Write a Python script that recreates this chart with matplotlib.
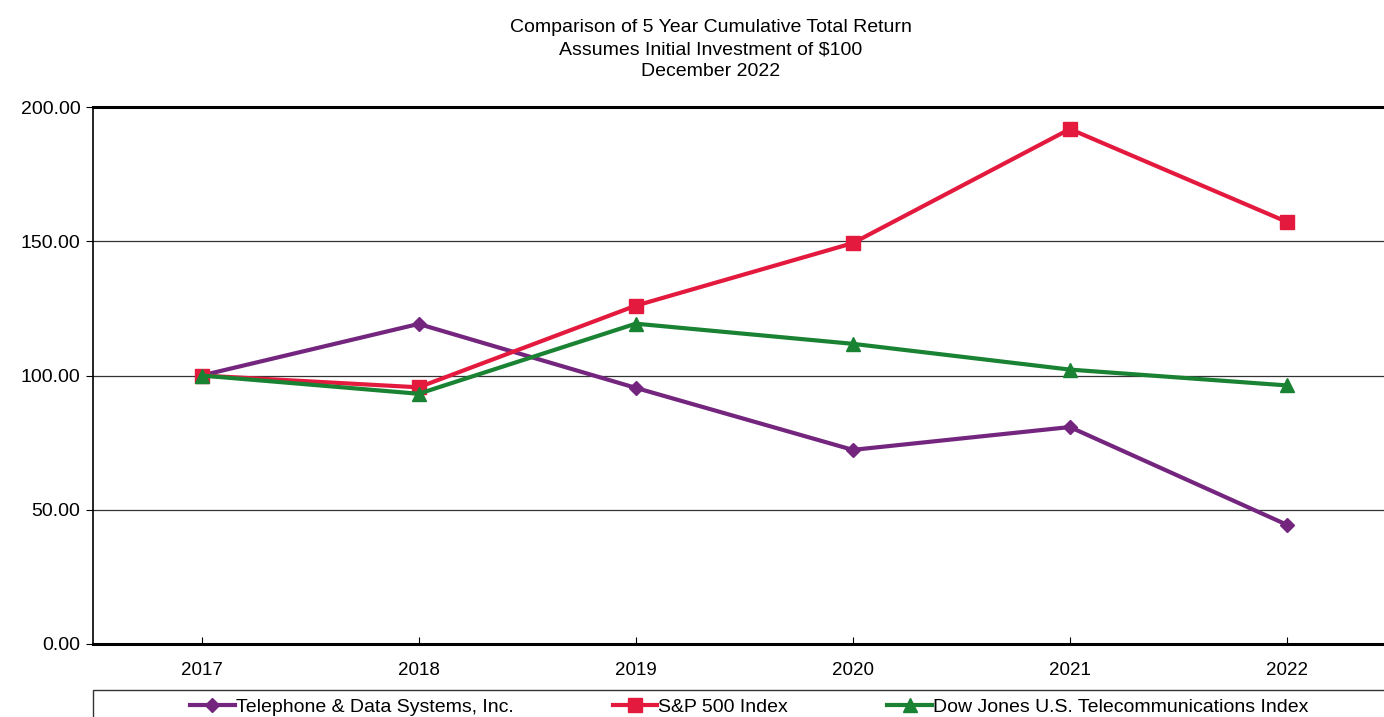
import numpy as np
import matplotlib.pyplot as plt
from matplotlib.patches import Rectangle
from matplotlib.ticker import FormatStrFormatter

plt.rcParams['font.family'] = ['Liberation Sans', 'DejaVu Sans']

# Data
years = ['2017', '2018', '2019', '2020', '2021', '2022']
tds = [100.00, 119.2, 95.4, 72.3, 80.8, 44.4]
sp500 = [100.00, 95.6, 126.0, 149.3, 191.8, 157.2]
dowjones = [100.00, 93.2, 119.3, 111.8, 102.2, 96.3]

series_names = ['Telephone & Data Systems, Inc.', 'S&P 500 Index',
                'Dow Jones U.S. Telecommunications Index']
title_lines = ['Comparison of 5 Year Cumulative Total Return',
               'Assumes Initial Investment of $100',
               'December 2022']

# Figure
fig = plt.figure(figsize=(13.84, 7.17), dpi=100)
ax = fig.add_axes([93 / 1384, 73 / 717, 1302.5 / 1384, 537 / 717])

x = np.arange(len(years))
l1, = ax.plot(x, tds, color='#74267f', lw=3, marker='D', ms=7.5, label=series_names[0])
l2, = ax.plot(x, sp500, color='#e31a3e', lw=3, marker='s', ms=9.5, label=series_names[1])
l3, = ax.plot(x, dowjones, color='#1a8233', lw=3, marker='^', ms=10.5, label=series_names[2])

ax.set_xlim(-0.5, 5.5)
ax.set_ylim(0, 200)
ax.set_xticks(x)
ax.set_xticklabels(years)
ax.set_yticks([0, 50, 100, 150, 200])
ax.yaxis.set_major_formatter(FormatStrFormatter('%.2f'))
ax.tick_params(axis='x', direction='in', length=5, pad=13, labelsize=13.5)
ax.tick_params(axis='y', direction='out', length=5, pad=4, labelsize=14)

ax.grid(axis='y', color='#333333', lw=0.9)
ax.set_axisbelow(True)
ax.spines['top'].set_linewidth(2.2)
ax.spines['bottom'].set_linewidth(2.2)
ax.spines['left'].set_linewidth(1.2)
ax.spines['right'].set_visible(False)

# Title, one line at a time
for i, line in enumerate(title_lines):
    fig.text(711 / 1384, 1 - (27 + 22.5 * i) / 717, line,
             ha='center', va='center', fontsize=14)

# Legend box (runs off the bottom of the figure)
fig.patches.append(Rectangle((93 / 1384, -0.05), 1.0, 0.05 + 27 / 717,
                             transform=fig.transFigure, fill=False,
                             edgecolor='#333333', lw=1.0))
fig.legend(handles=[l1, l2, l3], loc='center left',
           bbox_to_anchor=(190 / 1384, 1 - 707 / 717), ncol=3, frameon=False,
           fontsize=14, handlelength=2.3, handletextpad=0.05,
           columnspacing=5.1, borderpad=0, borderaxespad=0)

plt.savefig('out.png', dpi=100)
